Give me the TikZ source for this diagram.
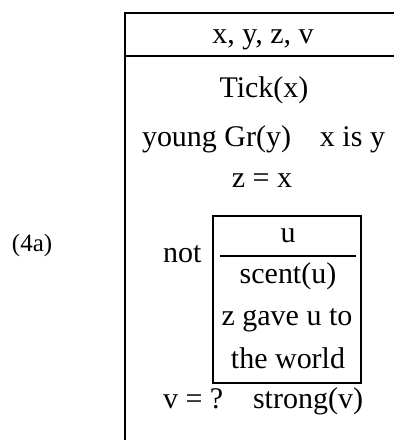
\documentclass[tikz,border=0pt]{standalone}
\usepackage{fontspec}
\setmainfont{Liberation Serif}
\begin{document}
\begin{tikzpicture}[x=1pt,y=-1pt,
  txt/.style={inner sep=0pt,outer sep=0pt,font=\fontsize{30}{36}\selectfont},
  lbl/.style={inner sep=0pt,outer sep=0pt,font=\fontsize{25}{30}\selectfont},
  rule/.style={line width=2pt}]
\useasboundingbox (0,0) rectangle (394,440);
% outer box (clipped at right and bottom)
\draw[rule,line cap=rect] (394,13) -- (125,13) -- (125,441);
\draw[rule] (125,56) -- (394,56);
% inner box
\draw[rule] (213,216) rectangle (361,383);
\draw[rule] (220,256) -- (356,256);
% texts
\node[lbl,anchor=base west] (lab) at (12,251) {(4a)};
\node[txt,anchor=base] (vars) at (263,43) {x, y, z, v};
\node[txt,anchor=base] (tick) at (264,97) {Tick(x)};
\node[txt,anchor=base west] (young) at (142,146) {young Gr(y)};
\node[txt,anchor=base east] (isy) at (385,146) {x is y};
\node[txt,anchor=base] (zx) at (262,187) {z = x};
\node[txt,anchor=base west] (not) at (163,262) {not};
\node[txt,anchor=base] (u) at (288,242) {u};
\node[txt,anchor=base] (scent) at (288,283) {scent(u)};
\node[txt,anchor=base] (gave) at (287,325) {z gave u to};
\node[txt,anchor=base] (world) at (288,368) {the world};
\node[txt,anchor=base west] (veq) at (163,408) {v = ?};
\node[txt,anchor=base east] (strong) at (363,408) {strong(v)};
\end{tikzpicture}
\end{document}
